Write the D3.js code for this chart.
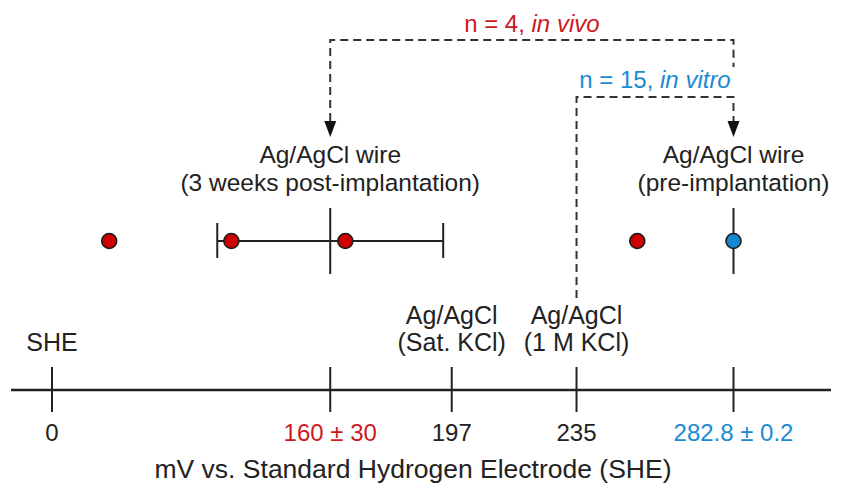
<!DOCTYPE html>
<html>
<head>
<meta charset="utf-8">
<script src="https://cdn.jsdelivr.net/npm/d3@7"></script>
<style>
  body { margin: 0; background: #fff; }
  text { font-family: "Liberation Sans", Arial, Helvetica, sans-serif; }
</style>
</head>
<body>
<script>
// potentials in mV vs SHE
var tickValues = [0, 160, 197, 235, 282.8];
var tickLabels = ["0", "160 \u00b1 30", "197", "235", "282.8 \u00b1 0.2"];
var tickKinds = ["ref", "vivo", "ref", "ref", "vitro"];

var refValues = [0, 197, 235];
var refNames = [["SHE"], ["Ag/AgCl", "(Sat. KCl)"], ["Ag/AgCl", "(1 M KCl)"]];

var wireValues = [160, 282.8];
var wireNames = [["Ag/AgCl wire", "(3 weeks post-implantation)"], ["Ag/AgCl wire", "(pre-implantation)"]];

var inVivo = [92.7, 129.9, 164.6, 253.5];
var inVivoMean = 160, inVivoErr = 34.4;
var inVitro = [282.8];
var inVitroMean = 282.8;

var W = 842, H = 491;
var red = "#cc1a1f", blue = "#1a8ad2", ink = "#222";
var kindColor = {ref: ink, vivo: red, vitro: blue};

var svg = d3.select("body").append("svg")
    .attr("width", W)
    .attr("height", H);

// broken axis: 0..80 squeezed, then linear
var x = d3.scaleLinear().domain([0, 80, 282.8]).range([52, 67.5, 733.5]);

var axisY = 390, pointY = 241;

// axis line
svg.append("line")
    .attr("x1", 11).attr("x2", 831)
    .attr("y1", axisY).attr("y2", axisY)
    .attr("stroke", ink).attr("stroke-width", 2.5);

var ticks = svg.append("g").selectAll("g").data(tickValues).enter().append("g")
    .attr("transform", function(d){ return "translate(" + x(d) + ",0)"; });
ticks.append("line")
    .attr("y1", axisY - 23).attr("y2", axisY + 22)
    .attr("stroke", ink).attr("stroke-width", 2);
ticks.append("text")
    .attr("y", 441)
    .attr("text-anchor", "middle")
    .attr("font-size", 24)
    .attr("fill", function(d, i){ return kindColor[tickKinds[i]]; })
    .text(function(d, i){ return tickLabels[i]; });

// reference electrode labels above axis
svg.append("g").selectAll("text").data(refValues).enter().append("text")
    .attr("x", function(d){ return x(d); })
    .attr("text-anchor", "middle")
    .attr("font-size", 25)
    .attr("fill", ink)
    .each(function(d, i){
      var lines = refNames[i];
      var t = d3.select(this);
      lines.forEach(function(s, k){
        t.append("tspan")
          .attr("x", x(d))
          .attr("y", 351 - (lines.length - 1 - k) * 27)
          .text(s);
      });
    });

// wire labels
svg.append("g").selectAll("text").data(wireValues).enter().append("text")
    .attr("text-anchor", "middle")
    .attr("font-size", 24.5)
    .attr("fill", ink)
    .each(function(d, i){
      var t = d3.select(this);
      wireNames[i].forEach(function(s, k){
        t.append("tspan")
          .attr("x", x(d))
          .attr("y", 163 + k * 28)
          .text(s);
      });
    });

// in vivo error bar (mean +/- SEM)
var eb = svg.append("g").attr("stroke", ink).attr("stroke-width", 2);
eb.append("line")
    .attr("x1", x(inVivoMean - inVivoErr)).attr("x2", x(inVivoMean + inVivoErr))
    .attr("y1", pointY).attr("y2", pointY);
[inVivoMean - inVivoErr, inVivoMean + inVivoErr].forEach(function(v){
  eb.append("line")
    .attr("x1", x(v)).attr("x2", x(v))
    .attr("y1", pointY - 18).attr("y2", pointY + 17);
});
[inVivoMean, inVitroMean].forEach(function(v){
  eb.append("line")
    .attr("x1", x(v)).attr("x2", x(v))
    .attr("y1", pointY - 33).attr("y2", pointY + 33);
});

// points
svg.append("g").selectAll("circle").data(inVivo).enter().append("circle")
    .attr("cx", function(d){ return x(d); })
    .attr("cy", pointY)
    .attr("r", 7.5)
    .attr("fill", "#cc0000")
    .attr("stroke", "#1a1a1a").attr("stroke-width", 1.6);
svg.append("g").selectAll("circle").data(inVitro).enter().append("circle")
    .attr("cx", function(d){ return x(d); })
    .attr("cy", pointY)
    .attr("r", 7.5)
    .attr("fill", "#1787d0")
    .attr("stroke", "#1a1a1a").attr("stroke-width", 1.6);

// dashed brackets
var dash = "8,5";
var arrowTop = 121, arrowTip = 137;
var line = d3.line();

svg.append("path")
    .attr("d", line([[x(160), arrowTop], [x(160), 40], [x(282.8), 40], [x(282.8), 67]]))
    .attr("fill", "none").attr("stroke", "#333").attr("stroke-width", 2)
    .attr("stroke-dasharray", dash);
svg.append("path")
    .attr("d", line([[x(235), 298], [x(235), 97], [x(282.8), 97], [x(282.8), arrowTop]]))
    .attr("fill", "none").attr("stroke", "#333").attr("stroke-width", 2)
    .attr("stroke-dasharray", dash);

svg.append("g").selectAll("path").data(wireValues).enter().append("path")
    .attr("d", function(d){
      var cx = x(d);
      return "M" + (cx - 6) + "," + arrowTop + "L" + (cx + 6) + "," + arrowTop +
             "L" + cx + "," + arrowTip + "Z";
    })
    .attr("fill", "#111");

// bracket captions
var cap1 = svg.append("text")
    .attr("x", (x(160) + x(282.8)) / 2).attr("y", 32)
    .attr("text-anchor", "middle").attr("font-size", 24).attr("fill", red);
cap1.append("tspan").text("n = 4, ");
cap1.append("tspan").attr("font-style", "italic").text("in vivo");

var cap2 = svg.append("text")
    .attr("x", (x(235) + x(282.8)) / 2).attr("y", 88)
    .attr("text-anchor", "middle").attr("font-size", 24).attr("fill", blue);
cap2.append("tspan").text("n = 15, ");
cap2.append("tspan").attr("font-style", "italic").text("in vitro");

// axis title
svg.append("text")
    .attr("x", 413).attr("y", 478)
    .attr("text-anchor", "middle")
    .attr("font-size", 26.5)
    .attr("fill", ink)
    .text("mV vs. Standard Hydrogen Electrode (SHE)");
</script>
</body>
</html>
